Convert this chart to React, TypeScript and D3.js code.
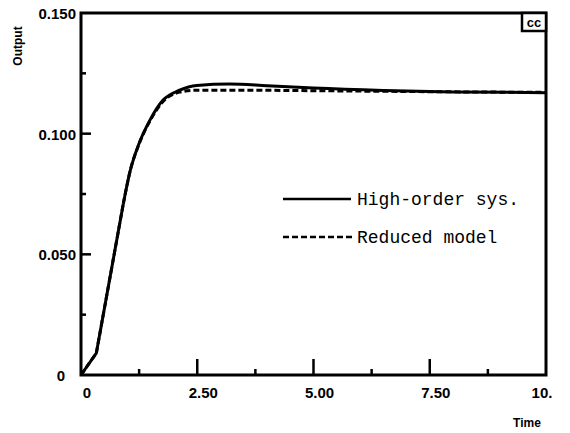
import React from "react";
import * as d3 from "d3";

const timeHigh = [0, 0.33, 0.91, 1.06, 1.25, 1.48, 1.76, 2.12, 2.49, 3.2, 4.0, 5.0, 6.5, 8.0, 10];
const outputHigh = [0, 0.0091, 0.071, 0.0848, 0.096, 0.1055, 0.1138, 0.118, 0.12, 0.1206, 0.1199, 0.1189, 0.1179, 0.1173, 0.117];
const timeReduced = [0, 0.33, 0.91, 1.06, 1.25, 1.48, 1.76, 2.12, 2.5, 3.5, 5, 7.5, 10];
const outputReduced = [0, 0.0091, 0.071, 0.0848, 0.0958, 0.1052, 0.1132, 0.1172, 0.118, 0.118, 0.1178, 0.1174, 0.1171];

const xTickValues = [0, 2.5, 5, 7.5, 10];
const xTickLabels = ["0", "2.50", "5.00", "7.50", "10."];
const xMinorTicks = [1.25, 3.75, 6.25, 8.75];
const yTickValues = [0, 0.05, 0.1, 0.15];
const yTickLabels = ["0", "0.050", "0.100", "0.150"];
const yMinorTicks = [0.025, 0.075, 0.125];
const legendLabels = ["High-order sys.", "Reduced model"];

export default function App() {
  const left = 81, right = 546, top = 13, bottom = 375;
  const x = d3.scaleLinear().domain([0, 10]).range([left, right]);
  const y = d3.scaleLinear().domain([0, 0.15]).range([bottom, top]);

  const linear = d3
    .line<[number, number]>()
    .x((d) => x(d[0]))
    .y((d) => y(d[1]));
  const smooth = d3
    .line<[number, number]>()
    .x((d) => x(d[0]))
    .y((d) => y(d[1]))
    .curve(d3.curveMonotoneX);

  const makePath = (ts: number[], vs: number[]) => {
    const pts = ts.map((t, i) => [t, vs[i]] as [number, number]);
    const split = 2; // straight start up to the third point
    const a = linear(pts.slice(0, split + 1)) || "";
    const b = smooth(pts.slice(split)) || "";
    return a + " " + b;
  };

  const highPath = makePath(timeHigh, outputHigh);
  const redPath = makePath(timeReduced, outputReduced);

  const tickFont = { fontFamily: "Liberation Sans, Arial, sans-serif", fontWeight: 700 as const, fontSize: 15 };

  return (
    <svg width={570} height={433} style={{ position: "absolute", left: 0, top: 0, background: "#fff" }}>
      <rect x={0} y={0} width={570} height={433} fill="#fff" />
      <rect x={left} y={top} width={right - left} height={bottom - top} fill="none" stroke="#000" strokeWidth={3} />
      {xTickValues.slice(1, -1).map((v) => (
        <line key={"xt" + v} x1={x(v)} x2={x(v)} y1={bottom} y2={bottom - 16} stroke="#000" strokeWidth={2.5} />
      ))}
      {xMinorTicks.map((v) => (
        <line key={"xm" + v} x1={x(v)} x2={x(v)} y1={bottom} y2={bottom - 6} stroke="#000" strokeWidth={2.5} />
      ))}
      {yTickValues.slice(1, -1).map((v) => (
        <line key={"yt" + v} x1={left} x2={left + 10} y1={y(v)} y2={y(v)} stroke="#000" strokeWidth={2.5} />
      ))}
      {yMinorTicks.map((v) => (
        <line key={"ym" + v} x1={left} x2={left + 5} y1={y(v)} y2={y(v)} stroke="#000" strokeWidth={2.5} />
      ))}
      {xTickValues.map((v, i) => (
        <text key={"xl" + v} x={x(v) + (i === xTickValues.length - 1 ? -4 : 6)} y={bottom + 23} textAnchor="middle" {...tickFont}>
          {xTickLabels[i]}
        </text>
      ))}
      {yTickValues.map((v, i) => (
        <text key={"yl" + v} x={i === 0 ? 65 : 76} y={y(v) + 6} textAnchor="end" {...tickFont}>
          {yTickLabels[i]}
        </text>
      ))}
      <text x={0} y={0} transform="translate(22,46) rotate(-90)" textAnchor="middle" fontFamily="Liberation Sans, Arial, sans-serif" fontWeight={700} fontSize={12}>
        Output
      </text>
      <text x={527} y={427} textAnchor="middle" fontFamily="Liberation Sans, Arial, sans-serif" fontWeight={700} fontSize={12}>
        Time
      </text>
      <rect x={522} y={13} width={24} height={18} fill="#fff" stroke="#000" strokeWidth={2.5} />
      <text x={534} y={27} textAnchor="middle" fontFamily="Liberation Sans, Arial, sans-serif" fontWeight={700} fontSize={13}>
        cc
      </text>
      <path d={redPath} fill="none" stroke="#000" strokeWidth={3} strokeDasharray="6 3" />
      <path d={highPath} fill="none" stroke="#000" strokeWidth={3} strokeLinejoin="round" />
      <line x1={283} x2={351} y1={199} y2={199} stroke="#000" strokeWidth={2.5} />
      <line x1={283} x2={354} y1={237} y2={237} stroke="#000" strokeWidth={2.5} strokeDasharray="6 3" />
      <text x={357} y={205} fontFamily="Liberation Mono, Courier New, monospace" fontSize={18}>
        {legendLabels[0]}
      </text>
      <text x={357} y={243} fontFamily="Liberation Mono, Courier New, monospace" fontSize={18}>
        {legendLabels[1]}
      </text>
    </svg>
  );
}
